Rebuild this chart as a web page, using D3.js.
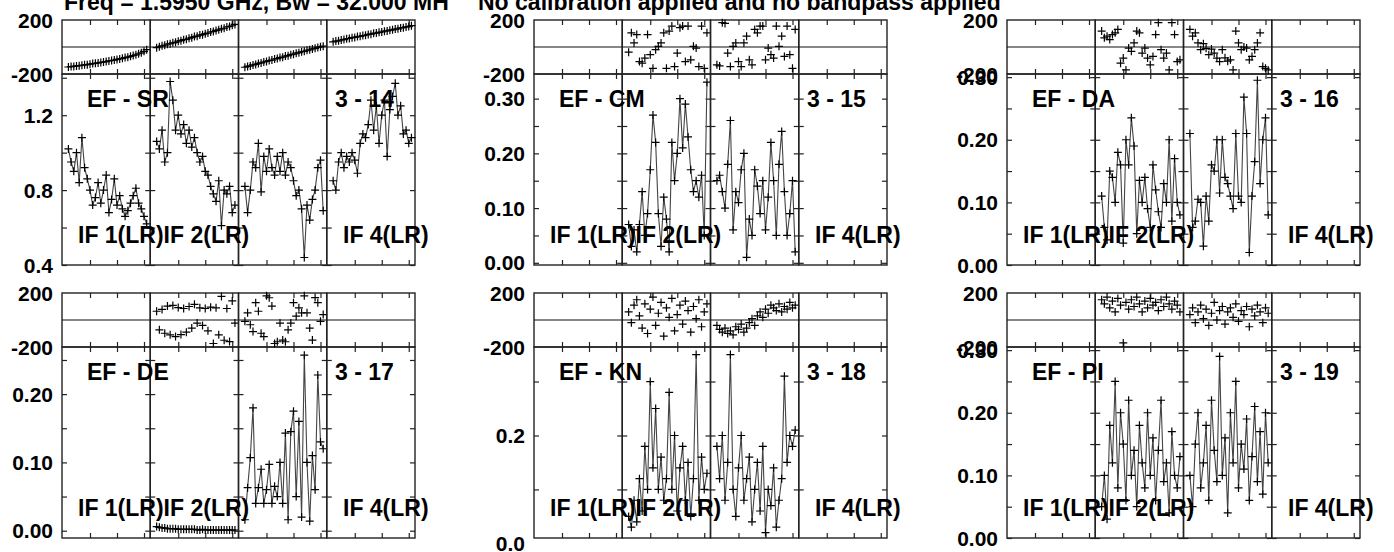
<!DOCTYPE html>
<html>
<head>
<meta charset="utf-8">
<script src="https://cdn.jsdelivr.net/npm/d3@7"></script>
<style>
  body { margin: 0; background: #fff; }
  text { font-family: "Liberation Sans", Arial, sans-serif; font-weight: bold; fill: #000; }
</style>
</head>
<body>
<script>
// baselines shown, 2 rows x 3 columns
const baselines = ["EF - SR", "EF - CM", "EF - DA", "EF - DE", "EF - KN", "EF - PI"];
const baseIds = ["3 - 14", "3 - 15", "3 - 16", "3 - 17", "3 - 18", "3 - 19"];
const ifNames = ["IF 1(LR)IF 2(LR)", "IF 4(LR)"];
const title1 = "Freq = 1.5950 GHz, Bw = 32.000 MH";
const title2 = "No calibration applied and no bandpass applied";
const channels = [2,3,4,5,6,7,8,9,10,11,12,13,14,15,16,17,18,19,20,21,22,23,24,25,26,27,28,29,30,31];

// amplitude per IF (null = no data)
const ampSR = [
  [1.02,0.95,0.9,1.0,0.84,1.08,0.92,0.86,0.8,0.72,0.76,0.84,0.73,0.8,0.88,0.68,0.75,0.86,0.72,0.77,0.7,0.66,0.69,0.73,0.77,0.81,0.73,0.7,0.66,0.62],
  [1.06,1.02,1.12,0.95,1.0,1.38,1.28,1.12,1.2,1.1,1.15,1.05,1.12,1.03,1.08,1.0,0.95,0.98,0.9,0.88,0.82,0.78,0.74,0.85,0.61,0.8,0.78,0.82,0.68,0.72],
  [0.82,0.68,0.8,0.95,0.92,1.05,0.79,0.98,0.9,1.02,0.92,0.88,0.98,0.9,1.0,0.88,0.95,0.92,0.85,0.77,0.8,0.7,0.44,0.72,0.64,0.75,0.8,0.92,0.96,0.69],
  [0.85,0.8,0.95,1.0,0.92,0.98,0.95,1.0,0.96,0.89,1.05,1.1,1.08,1.15,1.28,1.12,1.25,1.05,1.2,1.28,0.98,1.23,1.3,1.37,1.2,1.25,1.1,1.12,1.05,1.08]
];
const phaSR = [
  [-148,-145,-144,-140,-139,-135,-132,-131,-127,-123,-121,-118,-114,-111,-108,-103,-100,-97,-92,-88,-84,-78,-75,-69,-63,-58,-50,-43,-32,-20],
  [-5,2,9,13,21,24,31,35,43,47,54,57,65,69,77,80,88,91,99,103,111,115,123,127,135,139,148,152,161,167],
  [-150,-144,-140,-133,-129,-122,-118,-111,-107,-100,-97,-89,-86,-78,-75,-67,-64,-57,-53,-46,-42,-35,-32,-24,-21,-14,-10,-3,1,6],
  [38,44,46,52,55,61,63,69,71,77,79,85,87,93,95,101,103,109,111,117,119,125,127,133,135,141,143,149,151,158]
];
const ampCM = [null,
  [0.07,0.03,0.06,0.02,0.07,0.13,0.05,0.09,0.17,0.27,0.22,0.09,0.03,0.12,0.08,0.02,0.22,0.15,0.2,0.3,0.21,0.29,0.23,0.17,0.13,0.15,0.12,0.16,0.05,0.33],
  [0.15,0.16,0.13,0.1,0.18,0.26,0.06,0.13,0.11,0.17,0.2,0.01,0.08,0.05,0.17,0.14,0.09,0.15,0.06,0.12,0.22,0.15,0.05,0.18,0.24,0.13,0.05,0.09,0.15,0.02],
  null];
const phaCM = [null,
  [-38,105,30,92,-108,-120,-82,92,-57,-158,-20,5,30,105,-158,118,155,-145,-45,143,155,-108,155,-95,5,-8,-145,155,-158,105],
  [-132,-140,180,175,-45,-145,5,30,-108,-145,30,80,-95,-132,130,105,155,155,-95,-8,-57,-82,155,5,80,-70,155,-57,-158,130],
  null];
const ampDA = [null,
  [0.11,0.06,0.04,0.15,0.14,0.1,0.18,0.16,0.035,0.2,0.16,0.235,0.19,0.05,0.135,0.1,0.14,0.09,0.06,0.16,0.12,0.085,0.06,0.13,0.1,0.2,0.07,0.17,0.1,0.08],
  [0.21,0.06,0.07,0.105,0.1,0.03,0.11,0.07,0.16,0.15,0.2,0.115,0.2,0.14,0.13,0.11,0.09,0.21,0.11,0.1,0.268,0.21,0.02,0.11,0.165,0.295,0.13,0.2,0.235,0.08],
  null];
const phaDA = [null,
  [118,68,80,55,92,105,130,-120,-82,-170,-8,-32,30,118,105,-45,-8,-82,-132,-70,92,180,-20,-82,-45,-170,180,92,-108,-95],
  [130,80,105,30,-20,25,-10,-57,-15,-45,-82,-108,-20,-80,-105,-95,-170,118,30,-20,0,-8,-95,-70,-20,30,105,-145,-158,-170],
  null];
const ampDE = [null,
  [0.006,0.005,0.004,0.004,0.003,0.003,0.003,0.003,0.002,0.002,0.002,0.002,0.002,0.002,0.002,0.001,0.001,0.002,0.001,0.001,0.001,0.001,0.001,0.001,0.001,0.001,0.001,0.001,0.001,0.001],
  [0.016,0.063,0.107,0.18,0.04,0.063,0.09,0.04,0.06,0.097,0.04,0.065,0.05,0.1,0.04,0.143,0.016,0.145,0.175,0.05,0.16,0.02,0.257,0.1,0.014,0.11,0.06,0.228,0.13,0.12],
  null];
const phaDE = [null,
  [65,-73,78,-98,103,-110,108,-123,92,-108,85,-90,100,-60,116,-23,90,-40,85,-80,95,-174,90,-110,175,-150,85,-160,141,-23],
  [-10,53,-35,-86,128,65,-98,-123,179,165,103,-174,-161,-23,-149,-161,-73,-23,128,28,90,53,179,53,-60,-149,166,128,-10,40],
  null];
const ampKN = [null,
  [0.05,0.03,0.08,0.04,0.12,0.06,0.18,0.1,0.3,0.14,0.25,0.1,0.16,0.08,0.12,0.28,0.1,0.2,0.06,0.14,0.18,0.08,0.15,0.05,0.12,0.35,0.08,0.16,0.1,0.13],
  [0.18,0.12,0.2,0.08,0.15,0.35,0.1,0.05,0.14,0.2,0.08,0.12,0.16,0.04,0.1,0.15,0.06,0.18,0.02,0.1,0.07,0.14,0.03,0.08,0.12,0.31,0.15,0.2,0.18,0.21],
  null];
const phaKN = [null,
  [60,-20,110,150,30,-60,120,-100,80,170,-40,50,130,-120,90,20,160,-80,40,110,-30,140,70,-90,100,10,150,-50,60,120],
  [-40,-70,-90,-60,-100,-80,-110,-50,-70,-30,-90,-60,-20,10,-40,30,60,20,80,50,110,90,70,120,60,100,80,130,90,110],
  null];
const ampPI = [null,
  [0.05,0.1,0.03,0.18,0.12,0.25,0.08,0.2,0.15,0.06,0.22,0.1,0.14,0.05,0.18,0.12,0.08,0.2,0.1,0.16,0.06,0.14,0.22,0.09,0.12,0.04,0.17,0.1,0.08,0.13],
  [0.1,0.05,0.15,0.2,0.08,0.12,0.18,0.06,0.22,0.14,0.09,0.29,0.1,0.16,0.04,0.2,0.12,0.25,0.08,0.15,0.11,0.19,0.06,0.13,0.21,0.09,0.17,0.07,0.2,0.12],
  null];
const phaPI = [null,
  [150,120,170,90,140,60,160,110,-170,130,80,150,100,170,120,60,140,90,160,110,130,70,150,100,170,120,80,140,110,60],
  [40,90,-20,60,110,10,80,-40,50,130,0,70,100,-30,60,90,20,120,-10,70,40,100,-50,80,30,110,60,-20,90,50],
  null];

const amps = [ampSR, ampCM, ampDA, ampDE, ampKN, ampPI];
const phas = [phaSR, phaCM, phaDA, phaDE, phaKN, phaPI];
const ampDomains = [[0.4, 1.42], [-0.004, 0.345], [0, 0.305], [-0.0107, 0.269], [0.01, 0.364], [0, 0.305]];
const ampMajor = [[0.4, 0.8, 1.2], [0, 0.1, 0.2, 0.3], [0, 0.1, 0.2, 0.3], [0, 0.1, 0.2], [0, 0.2], [0, 0.1, 0.2, 0.3]];
const ampMinor = [[0.6, 1.0, 1.4], [0.05, 0.15, 0.25], [0.05, 0.15, 0.25], [0.05, 0.15, 0.25], [0.1, 0.3], [0.05, 0.15, 0.25]];
const ampFmt = [".1f", ".2f", ".2f", ".2f", ".1f", ".2f"];

const width = 1394, height = 552;
const colLeft = [62, 534, 1007];
const secW = 88.25;
const rowTop = [{pt: 20, pb: 74, ab: 265}, {pt: 293, pb: 347, ab: 538}];
const tk = 5;

const svg = d3.select("body").append("svg").attr("width", width).attr("height", height);

svg.append("text").attr("x", 64).attr("y", 10).attr("font-size", 23).text(title1);
svg.append("text").attr("x", 478).attr("y", 10).attr("font-size", 23).text(title2);

const plus = "M-4,0H4M0,-4V4";

baselines.forEach((name, p) => {
  const L = colLeft[p % 3];
  const r = rowTop[Math.floor(p / 3)];
  const g = svg.append("g");
  const yP = d3.scaleLinear().domain([-200, 200]).range([r.pb, r.pt]);
  const yA = d3.scaleLinear().domain(ampDomains[p]).range([r.ab, r.pb]);

  for (let k = 0; k < 4; k++) {
    const sx = L + k * secW;
    const x = d3.scaleLinear().domain([0, 32]).range([sx + 1, sx + 1 + 2.7 * 32]);
    const sg = g.append("g");

    // frames
    sg.append("rect").attr("x", sx).attr("y", r.pt).attr("width", secW).attr("height", r.pb - r.pt)
      .attr("fill", "none").attr("stroke", "#222").attr("stroke-width", 1.4);
    sg.append("rect").attr("x", sx).attr("y", r.pb).attr("width", secW).attr("height", r.ab - r.pb)
      .attr("fill", "none").attr("stroke", "#222").attr("stroke-width", 1.4);
    sg.append("line").attr("x1", sx).attr("x2", sx + secW).attr("y1", yP(0)).attr("y2", yP(0))
      .attr("stroke", "#111").attr("stroke-width", 1.1);

    // ticks (inward)
    const xt = [10, 20, 30];
    const addAxis = (axis, tx, ty) => {
      const a = sg.append("g").attr("transform", `translate(${tx},${ty})`).call(axis);
      a.select(".domain").remove();
      a.selectAll("line").attr("stroke", "#222").attr("stroke-width", 1.2);
      a.selectAll("text").remove();
    };
    addAxis(d3.axisTop(x).tickValues(xt).tickSize(-tk), 0, r.pt);
    addAxis(d3.axisBottom(x).tickValues(xt).tickSize(-tk), 0, r.pb);
    addAxis(d3.axisTop(x).tickValues(xt).tickSize(-tk), 0, r.pb);
    addAxis(d3.axisBottom(x).tickValues(xt).tickSize(-tk), 0, r.ab);
    const yt = ampMajor[p].concat(ampMinor[p]).filter(v => v >= ampDomains[p][0] && v <= ampDomains[p][1]);
    addAxis(d3.axisLeft(yA).tickValues(yt).tickSize(-tk), sx, 0);
    addAxis(d3.axisRight(yA).tickValues(yt).tickSize(-tk), sx + secW, 0);

    // data
    const av = amps[p][k], pv = phas[p][k];
    if (av) {
      const line = d3.line().x((d, i) => x(channels[i])).y(d => yA(d));
      sg.append("path").datum(av).attr("d", line).attr("fill", "none")
        .attr("stroke", "#444").attr("stroke-width", 1.1);
      sg.selectAll(".am").data(av).enter().append("path").attr("class", "am")
        .attr("transform", (d, i) => `translate(${x(channels[i])},${yA(d)})`)
        .attr("d", plus).attr("stroke", "#000").attr("stroke-width", 1.2);
    }
    if (pv) {
      sg.selectAll(".ph").data(pv).enter().append("path").attr("class", "ph")
        .attr("transform", (d, i) => `translate(${x(channels[i])},${yP(d)})`)
        .attr("d", plus).attr("stroke", "#000").attr("stroke-width", 1.2);
    }
  }

  // y labels
  const lab = g.append("g").attr("font-size", 21).attr("text-anchor", "end");
  [200, -200].forEach(v => {
    lab.append("text").attr("x", L - 9).attr("y", yP(v)).attr("dy", "0.36em").text(v);
  });
  const fmt = d3.format(ampFmt[p]);
  ampMajor[p].filter(v => v >= ampDomains[p][0] - 0.02 && v <= ampDomains[p][1]).forEach(v => {
    lab.append("text").attr("x", L - 9).attr("y", yA(v)).attr("dy", "0.36em").text(fmt(v));
  });

  // panel labels
  g.append("text").attr("x", L + 25).attr("y", r.pb + 33).attr("font-size", 23).text(name);
  g.append("text").attr("x", L + 273).attr("y", r.pb + 33).attr("font-size", 23).text(baseIds[p]);
  g.append("text").attr("x", L + 16).attr("y", r.ab - 22).attr("font-size", 23).text(ifNames[0]);
  g.append("text").attr("x", L + 281).attr("y", r.ab - 22).attr("font-size", 23).text(ifNames[1]);
});
</script>
</body>
</html>
